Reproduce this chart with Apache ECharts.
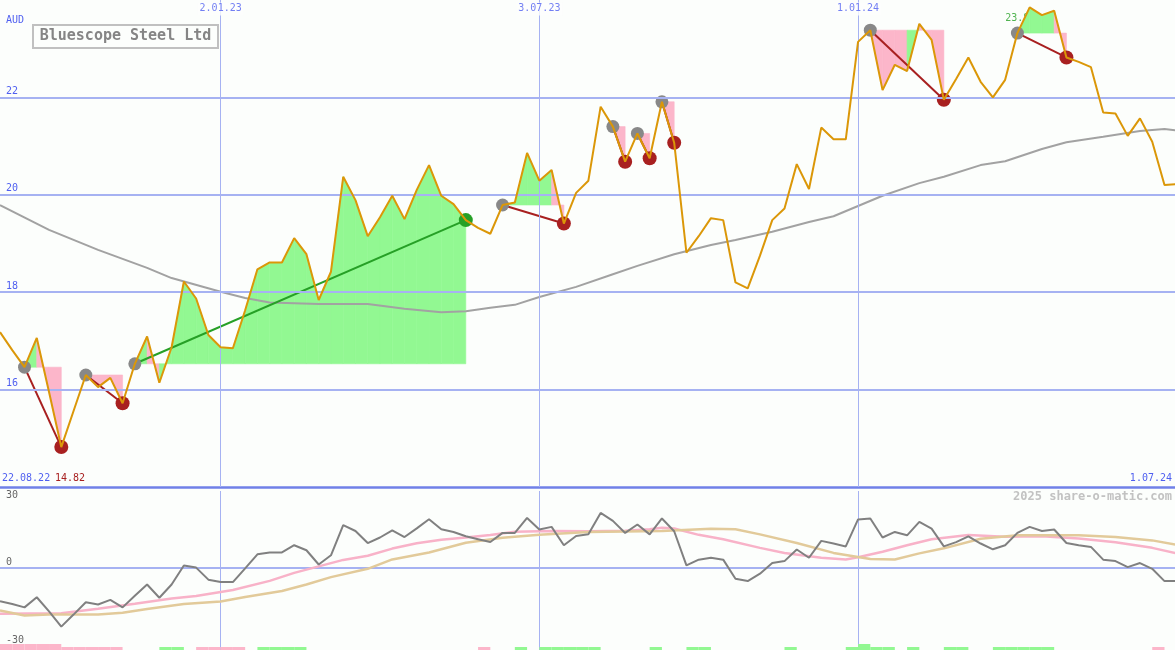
<!DOCTYPE html>
<html><head><meta charset="utf-8">
<script src="https://cdn.jsdelivr.net/npm/echarts@6/dist/echarts.min.js"></script>
<style>html,body{margin:0;padding:0;background:#fcfefc}#c{width:1175px;height:650px}</style>
</head><body><div id="c"></div>
<script>
// ---------- data ----------
var titleText = 'Bluescope Steel Ltd';
var currency = 'AUD';
var firstDateLabel = '22.08.22';
var lastDateLabel = '1.07.24';
var minLabel = '14.82';
var maxLabel = '23.8';
var maxIdx = 84;
var credit = '2025 share-o-matic.com';

// weekly closes starting Monday 29.08.22
var price = [17.18,16.81,16.46,17.06,15.95,14.82,15.56,16.30,16.05,16.24,
15.72,16.53,17.09,16.14,16.87,18.22,17.87,17.12,16.87,16.85,
17.63,18.47,18.61,18.61,19.11,18.78,17.84,18.42,20.37,19.89,
19.15,19.54,19.98,19.50,20.10,20.61,19.98,19.81,19.48,19.32,
19.20,19.79,19.84,20.86,20.29,20.51,19.41,20.04,20.29,21.81,
21.40,20.68,21.26,20.75,21.91,21.07,18.81,19.15,19.52,19.48,
18.20,18.08,18.75,19.48,19.72,20.63,20.12,21.38,21.14,21.14,
23.14,23.38,22.15,22.67,22.54,23.51,23.18,21.95,22.38,22.82,
22.32,22.00,22.36,23.32,23.85,23.69,23.78,22.82,22.73,22.62,
21.69,21.67,21.21,21.57,21.09,20.20,20.22];

// slow moving average (week index -> value)
var maIdx = [0,4,8,12,14,18,20,22,26,30,33,36,38,40,42,44,47,50,52,55,58,60,63,66,68,70,72,75,77,80,82,85,87,90,93,95,96];
var maVals = [19.79,19.28,18.87,18.50,18.29,18.01,17.88,17.79,17.76,17.76,17.66,17.59,17.61,17.68,17.74,17.90,18.11,18.37,18.54,18.78,18.97,19.07,19.24,19.44,19.56,19.77,19.98,20.24,20.37,20.61,20.69,20.94,21.08,21.19,21.31,21.35,21.32];

// oscillator panel
var oscGray = [-13.8,-14.9,-16.3,-12.1,-18.0,-24.3,-19.3,-14.2,-15.1,-13.2,
-16.3,-11.5,-6.8,-12.3,-6.8,1.1,0.2,-4.8,-5.8,-5.8,
-0.1,5.7,6.5,6.5,9.5,7.4,1.5,5.3,17.8,15.4,
10.4,12.7,15.7,12.9,16.5,20.3,16.1,15.0,13.2,12.0,
10.8,14.6,14.6,20.8,16.0,17.1,9.5,13.3,14.0,22.9,
19.6,14.6,18.1,14.0,20.6,15.3,1.1,3.5,4.3,3.5,
-4.4,-5.4,-2.3,2.1,2.9,7.7,4.3,11.3,10.2,9.0,
20.2,20.6,12.7,15.0,13.6,19.2,16.4,9.0,10.8,13.2,
10.2,7.8,9.5,14.6,17.1,15.4,16.0,10.4,9.5,8.8,
3.5,2.9,0.4,2.1,-0.3,-5.4,-5.4];
var pinkIdx = [0,5,8,11,14,16,19,22,24,26,28,30,32,34,36,38,40,42,45,48,51,53,54,55,57,59,62,64,67,69,70,72,74,76,79,82,85,88,91,94,96];
var pinkVals = [-19.0,-18.75,-16.9,-14.8,-12.6,-11.6,-9.1,-5.3,-2.0,0.7,3.4,5.1,8.1,10.3,11.8,12.7,13.75,15.1,15.4,15.3,15.5,16.1,16.7,16.4,13.8,12.0,8.4,6.3,4.3,3.6,4.5,6.75,9.5,12.0,13.75,13.0,13.2,12.25,10.7,8.4,6.1];
var tanIdx = [0,2,4,8,10,12,15,18,20,23,25,27,30,32,35,38,41,44,48,54,58,60,62,65,68,71,73,75,77,80,83,88,91,94,96];
var tanVals = [-17.6,-19.7,-19.3,-19.3,-18.5,-17.0,-14.9,-13.9,-12.0,-9.5,-6.8,-3.75,-0.3,3.6,6.5,10.5,12.6,13.8,15.0,15.4,16.3,16.1,14.0,10.4,6.3,3.8,3.6,6.1,8.2,12.2,13.6,13.6,12.9,11.5,9.7];

// trades (week indices)
var tradeEntry = [2,7,11,41,50,52,54,71,83];
var tradeExit  = [5,10,38,46,51,53,55,77,87];

// weekly signal strip (per interval): + green, - pink, 2 = tall
var signalBars = [-2,-2,-2,-2,-2,-1,-1,-1,-1,-1,
0,0,0,1,1,0,-1,-1,-1,-1,
0,1,1,1,1,0,0,0,0,0,
0,0,0,0,0,0,0,0,0,-1,
0,0,1,0,1,1,1,1,1,0,
0,0,0,1,0,0,1,1,0,0,
0,0,0,0,1,0,0,0,0,1,
2,1,1,0,1,0,0,1,1,0,
0,1,1,1,1,1,0,0,0,0,
0,0,0,0,-1,0];

var priceTicks = [16,18,20,22];
var oscTicks = [30,0,-30];
var dateLineIdx = [18,44,70];

// ---------- helpers ----------
var WEEK = 7*864e5;
var t0 = Date.UTC(2022,7,29);
var tMax = Date.UTC(2024,5,30);
var dates = price.map(function(_,i){return t0 + i*WEEK;});
function pad(n){return (n<10?'0':'')+n;}
function fmtDate(t){var d=new Date(t);return d.getUTCDate()+'.'+pad(d.getUTCMonth()+1)+'.'+pad(d.getUTCFullYear()%100);}

var MONO = 'DejaVu Sans Mono';
var BLUE = '#4f5ff0';
var GRID = '#a6b2f2';
var GREEN_FILL = '#92f892';
var PINK_FILL = '#fcb6ca';
var LOSS = '#a82020';
var WIN = '#26a026';

var fillData = [], tradeLines = [], entryPts = [], exitPts = [];
tradeEntry.forEach(function(e, j){
  var x = tradeExit[j], level = price[e];
  for (var i=e;i<x;i++){
    fillData.push([dates[i], price[i], dates[i+1], price[i+1], level, price[i+1] > level ? 1 : -1]);
  }
  var win = price[x] > level;
  tradeLines.push({coords:[[dates[e],price[e]],[dates[x],price[x]]], lineStyle:{color: win?WIN:LOSS}});
  entryPts.push([dates[e], price[e]]);
  exitPts.push({value:[dates[x], price[x]], itemStyle:{color: win?WIN:LOSS}});
});

var barData = [];
signalBars.forEach(function(v,i){ if(v) barData.push([dates[i], dates[i+1], Math.abs(v), v>0?1:-1]); });

var vLines = dateLineIdx.map(function(i){return {xAxis: dates[i], label:{show:false}, lineStyle:{color:GRID,width:1,type:'solid'}};});

var chart = echarts.init(document.getElementById('c'), null, {renderer:'canvas'});
chart.setOption({
  animation:false,
  backgroundColor:'#fcfefc',
  grid:[
    {left:0,right:0,top:0,height:487},
    {left:0,right:0,top:491,height:159},
    {left:0,right:0,top:638,height:12}
  ],
  xAxis:[
    {type:'time',gridIndex:0,min:t0,max:tMax,axisLabel:{show:false},axisTick:{show:false},splitLine:{show:false},
     axisLine:{show:true,lineStyle:{color:'#7080e8',width:2.5}}},
    {type:'time',gridIndex:1,min:t0,max:tMax,show:false},
    {type:'time',gridIndex:2,min:t0,max:tMax,show:false}
  ],
  yAxis:[
    {type:'value',gridIndex:0,min:14,max:24,show:false},
    {type:'value',gridIndex:1,min:-34,max:32,show:false},
    {type:'value',gridIndex:2,min:0,max:4,show:false}
  ],
  graphic:[
    {type:'rect',shape:{x:33,y:25,width:185,height:23},style:{fill:'#fcfefc',stroke:'#c0c0c0',lineWidth:2},z:100},
    {type:'text',x:125.5,y:36.5,style:{text:titleText,font:'bold 15px "DejaVu Sans Mono"',fill:'#858585',align:'center',verticalAlign:'middle'},z:101},
    {type:'text',x:6,y:20,style:{text:currency,font:'10px "DejaVu Sans Mono"',fill:BLUE,verticalAlign:'middle'},z:101},
    {type:'text',x:2,y:478.5,style:{text:firstDateLabel,font:'10px "DejaVu Sans Mono"',fill:BLUE,verticalAlign:'middle'},z:101},
    {type:'text',x:55,y:478.5,style:{text:minLabel,font:'10px "DejaVu Sans Mono"',fill:LOSS,verticalAlign:'middle'},z:101},
    {type:'text',x:1172,y:478.5,style:{text:lastDateLabel,font:'10px "DejaVu Sans Mono"',fill:BLUE,align:'right',verticalAlign:'middle'},z:101},
    {type:'text',x:1172,y:496.5,style:{text:credit,font:'bold 12px "DejaVu Sans Mono"',fill:'#c2c2c2',align:'right',verticalAlign:'middle'},z:101}
  ],
  series:[
    // max label (under fill)
    {type:'scatter',xAxisIndex:0,yAxisIndex:0,z:0,symbolSize:1,itemStyle:{color:'rgba(0,0,0,0)'},silent:true,
     data:[[dates[maxIdx],price[maxIdx]]],
     label:{show:true,position:[-24,7],formatter:maxLabel,color:WIN,fontSize:10,fontFamily:MONO}},
    // trade fills
    {type:'custom',xAxisIndex:0,yAxisIndex:0,z:1,clip:true,silent:true,
     encode:{x:[0,2],y:[1,3,4]},
     renderItem:function(p,api){
       var a=api.coord([api.value(0),api.value(4)]), b=api.coord([api.value(0),api.value(1)]),
           c=api.coord([api.value(2),api.value(3)]), d=api.coord([api.value(2),api.value(4)]);
       var col = api.value(5)>0?GREEN_FILL:PINK_FILL;
       return {type:'polygon',shape:{points:[a,b,c,d]},style:{fill:col,stroke:col,lineWidth:0.6}};
     },
     data:fillData},
    // moving average + grid lines
    {type:'line',xAxisIndex:0,yAxisIndex:0,z:2,symbol:'none',silent:true,
     lineStyle:{color:'#a2a2a2',width:2},
     data:maIdx.map(function(k,j){return [dates[k],maVals[j]];}),
     markLine:{silent:true,symbol:['none','none'],animation:false,
       data:priceTicks.map(function(v){return {yAxis:v,lineStyle:{color:GRID,width:2,type:'solid'},
         label:{show:true,position:'insideStartTop',formatter:String(v),color:BLUE,fontSize:10,fontFamily:MONO,distance:[6,1]}};}).concat(vLines)}},
    // trade connecting lines
    {type:'lines',coordinateSystem:'cartesian2d',xAxisIndex:0,yAxisIndex:0,z:3,silent:true,
     lineStyle:{width:2,opacity:1},data:tradeLines},
    // entry dots
    {type:'scatter',xAxisIndex:0,yAxisIndex:0,z:4,symbolSize:13,silent:true,itemStyle:{color:'#888888',opacity:1},data:entryPts},
    // exit dots
    {type:'scatter',xAxisIndex:0,yAxisIndex:0,z:4,symbolSize:14,silent:true,itemStyle:{opacity:1},data:exitPts},
    // price line
    {type:'line',xAxisIndex:0,yAxisIndex:0,z:5,symbol:'none',silent:true,
     lineStyle:{color:'#db9708',width:2},
     data:price.map(function(v,i){return [dates[i],v];})},
    // top date labels
    {type:'scatter',xAxisIndex:0,yAxisIndex:0,z:6,symbolSize:1,itemStyle:{color:'rgba(0,0,0,0)'},silent:true,
     data:dateLineIdx.map(function(i){return [dates[i],24];}),
     label:{show:true,position:'bottom',distance:2,formatter:function(p){return fmtDate(p.value[0]);},
       color:BLUE,fontSize:10,fontFamily:MONO,backgroundColor:'#fcfefc',padding:[1,2,2,2]}},
    // oscillator panel
    {type:'line',xAxisIndex:1,yAxisIndex:1,z:3,symbol:'none',silent:true,
     lineStyle:{color:'#f8b2c8',width:2.5},
     data:pinkIdx.map(function(k,j){return [dates[k],pinkVals[j]];})},
    {type:'line',xAxisIndex:1,yAxisIndex:1,z:3,symbol:'none',silent:true,
     lineStyle:{color:'#e2ca9a',width:2.5},
     data:tanIdx.map(function(k,j){return [dates[k],tanVals[j]];})},
    {type:'line',xAxisIndex:1,yAxisIndex:1,z:4,symbol:'none',silent:true,
     lineStyle:{color:'#808080',width:2},
     data:oscGray.map(function(v,i){return [dates[i],v];}),
     markLine:{silent:true,symbol:['none','none'],animation:false,z:1,
       data:oscTicks.map(function(v){return {yAxis:v,
         lineStyle:{color:v===0?GRID:'rgba(0,0,0,0)',width:2,type:'solid'},
         label:{show:true,position:v===0?'insideStartTop':'insideStart',formatter:String(v),color:'#666',fontSize:10,fontFamily:MONO,distance:[6,1]}};}).concat(vLines)}},
    // signal strip
    {type:'custom',xAxisIndex:2,yAxisIndex:2,z:2,clip:true,silent:true,
     encode:{x:[0,1],y:[2]},
     renderItem:function(p,api){
       var a=api.coord([api.value(0),api.value(2)]), b=api.coord([api.value(1),0]);
       return {type:'rect',shape:{x:a[0],y:a[1],width:b[0]-a[0],height:b[1]-a[1]},style:{fill:api.value(3)>0?GREEN_FILL:PINK_FILL}};
     },
     data:barData}
  ]
});
</script></body></html>
